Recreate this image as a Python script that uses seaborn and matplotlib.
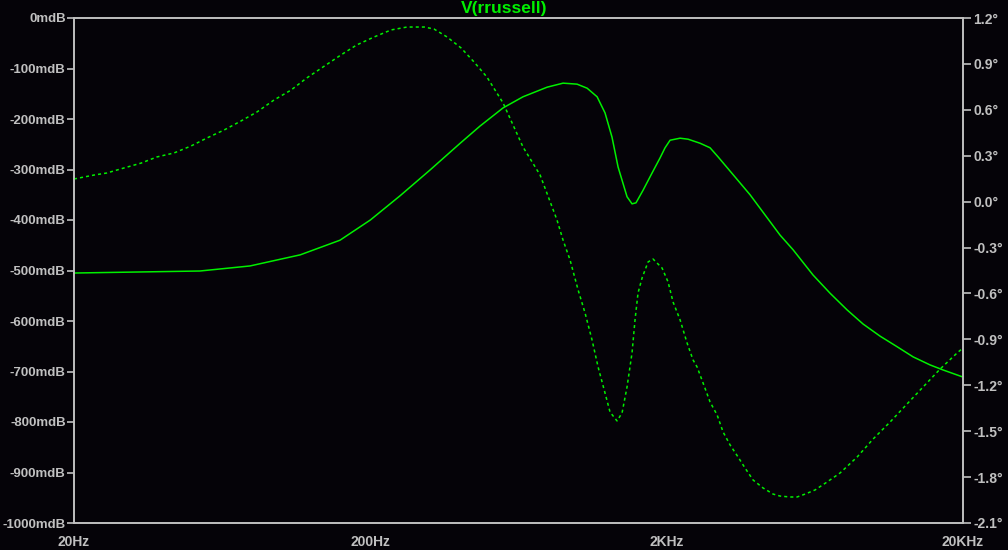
import matplotlib
matplotlib.use('Agg')
import pandas as pd
import seaborn as sns
from matplotlib import pyplot as plt
from matplotlib.ticker import FixedLocator, NullFormatter

# magnitude trace (solid), mdB
mag_freq = [20, 53.2, 78.5, 116, 158, 200, 252, 318, 402, 469, 561, 655, 790, 894,
            997, 1078, 1165, 1239, 1308, 1371, 1470, 1528, 1576, 1665, 1785, 1900,
            1975, 2054, 2220, 2362, 2593, 2802, 2982, 3823, 4828, 5342, 6238, 7120,
            8126, 9202, 10500, 11990, 13570, 15490, 17140, 20000]
mag_mdb = [-505, -501, -491, -469, -440, -400, -352, -301, -248, -214, -178, -156,
           -137, -129, -131, -139, -156, -188, -236, -295, -354, -368, -366, -341,
           -307, -277, -257, -242, -238, -240, -248, -257, -275, -350, -430, -459,
           -509, -545, -578, -606, -630, -651, -671, -687, -697, -711]

# phase trace (dashed), degrees
ph_freq = [20, 23.4, 25.8, 29.5, 33.7, 38.1, 43.5, 49.7, 56.2, 64.2, 73.2, 82.9,
           94.6, 108, 122, 140, 159, 180, 206, 235, 266, 304, 328, 363, 405, 448,
           495, 561, 655, 748, 853, 894, 944, 1005, 1061, 1120, 1174, 1239, 1288,
           1360, 1414, 1470, 1528, 1564, 1601, 1652, 1731, 1799, 1930, 2022, 2102,
           2220, 2344, 2456, 2534, 2654, 2802, 2960, 3100, 3274, 3484, 3678, 3914,
           4230, 4574, 4828, 5218, 5510, 5864, 6338, 6956, 7696, 8784, 9948, 11350,
           12950, 14670, 16740, 19100, 20000]
ph_deg = [0.148, 0.174, 0.187, 0.220, 0.252, 0.292, 0.318, 0.364, 0.416, 0.468,
          0.527, 0.586, 0.664, 0.729, 0.808, 0.886, 0.958, 1.024, 1.076, 1.122,
          1.141, 1.141, 1.128, 1.076, 1.004, 0.912, 0.814, 0.645, 0.357, 0.174,
          -0.120, -0.251, -0.381, -0.577, -0.728, -0.904, -1.081, -1.251, -1.375,
          -1.433, -1.381, -1.211, -0.989, -0.773, -0.597, -0.499, -0.394, -0.375,
          -0.434, -0.525, -0.656, -0.773, -0.924, -1.035, -1.081, -1.185, -1.309,
          -1.394, -1.505, -1.590, -1.669, -1.741, -1.819, -1.871, -1.911, -1.924,
          -1.930, -1.930, -1.911, -1.884, -1.832, -1.773, -1.669, -1.551, -1.440,
          -1.322, -1.211, -1.094, -0.989, -0.956]

mag_ticks = list(range(0, -1001, -100))
ph_ticks = [1.2, 0.9, 0.6, 0.3, 0.0, -0.3, -0.6, -0.9, -1.2, -1.5, -1.8, -2.1]
x_ticks = [20, 200, 2000, 20000]
x_labels = ['20Hz', '200Hz', '2KHz', '20KHz']

bg = '#050308'
fg = '#c0c0c0'
green = '#00f000'

sns.set_style('dark')
plt.rcParams['font.family'] = ['Liberation Sans', 'DejaVu Sans']

fig = plt.figure(figsize=(10.08, 5.5), dpi=100, facecolor=bg)
ax = fig.add_axes([74/1008, 27/550, 889/1008, 505/550])
ax2 = ax.twinx()

mag_df = pd.DataFrame({'f': mag_freq, 'v': mag_mdb})
ph_df = pd.DataFrame({'f': ph_freq, 'v': ph_deg})

sns.lineplot(data=mag_df, x='f', y='v', ax=ax, color=green, linewidth=1.1)
sns.lineplot(data=ph_df, x='f', y='v', ax=ax2, color=green, linewidth=1.1)
ax2.lines[0].set_dashes([2.0, 2.0])

for a in (ax, ax2):
    a.set_facecolor(bg)
    a.set_xscale('log')
    a.set_xlim(20, 20000)
    a.set_xlabel('')
    a.set_ylabel('')
    a.grid(False)
    for s in a.spines.values():
        s.set_visible(True)
        s.set_color(fg)
        s.set_linewidth(1.2)
    a.tick_params(colors=fg, labelsize=10, direction='out', length=6, width=1.2, pad=1.5)
ax2.patch.set_alpha(0)
ax.tick_params(axis='y', labelsize=9.5, length=5, pad=1)

ax.set_ylim(-1000, 0)
ax.set_yticks(mag_ticks)
ax.set_yticklabels([f'{t}mdB' for t in mag_ticks])
ax2.set_ylim(-2.1, 1.2)
ax2.set_yticks(ph_ticks)
ax2.set_yticklabels([f'{t:.1f}°' for t in ph_ticks])

minor = [m * d for d in (20, 200, 2000) for m in (2, 3, 4, 5, 6, 7, 8, 9)]
ax.xaxis.set_major_locator(FixedLocator(x_ticks))
ax.set_xticklabels(x_labels)
ax.xaxis.set_minor_locator(FixedLocator(minor))
ax.xaxis.set_minor_formatter(NullFormatter())
ax.tick_params(axis='x', which='minor', length=4, width=1.0, colors=fg)
ax.tick_params(axis='x', which='major', length=8, pad=0.5)

for lab in ax.get_xticklabels() + ax.get_yticklabels() + ax2.get_yticklabels():
    lab.set_fontweight('bold')

fig.text(0.5, 1 - 9/550, 'V(rrussell)', color=green, fontsize=12.5, fontweight='bold',
         ha='center', va='center')

fig.savefig('out.png', dpi=100, facecolor=bg)
